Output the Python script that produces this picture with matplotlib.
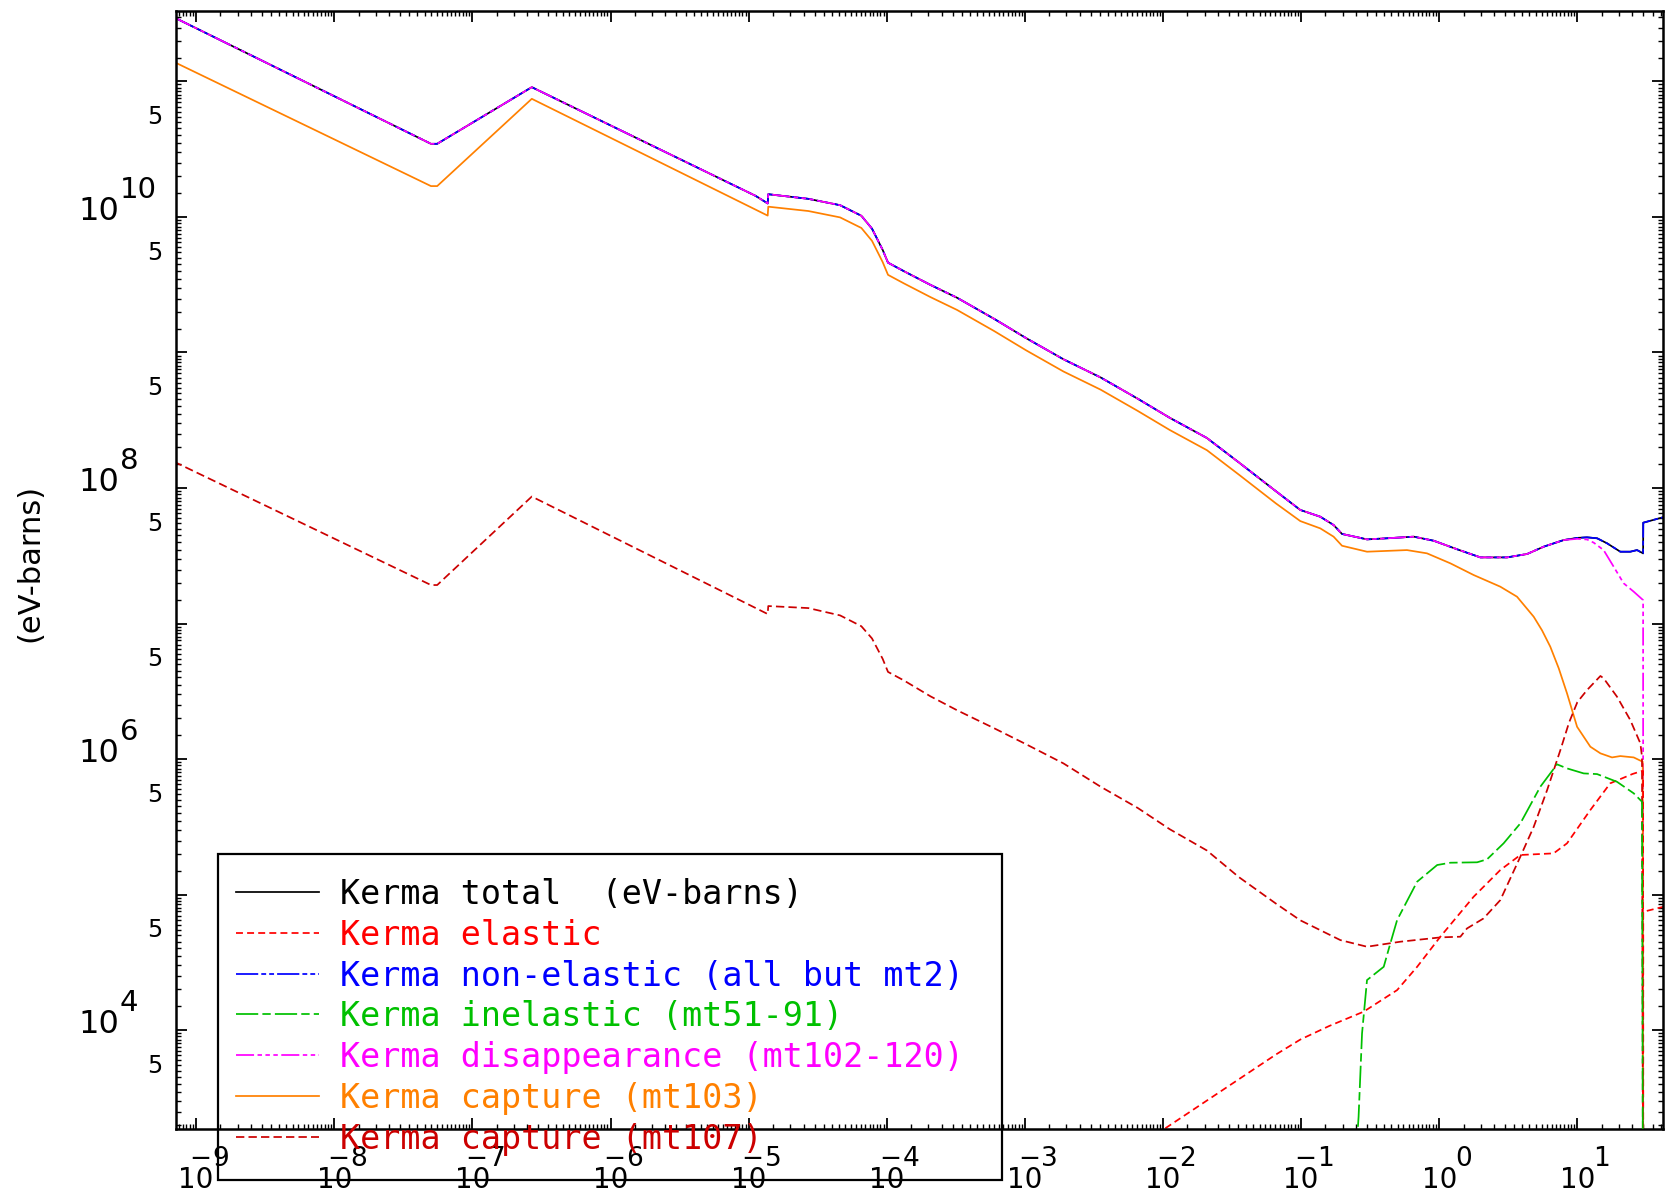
#!/usr/bin/env python3
"""Kerma factors (eV-barns) vs incident energy, log-log, seven components."""

import numpy as np
import matplotlib
matplotlib.use('Agg')
import matplotlib.pyplot as plt
from matplotlib import transforms
from matplotlib.lines import Line2D
from matplotlib.patches import Rectangle
from matplotlib.ticker import LogLocator, NullFormatter

plt.rcParams['lines.scale_dashes'] = False

# values: log10(E) and log10(kerma in eV-barns)
tot_logE = [-9.16, -7.30, -7.255, -6.570, -4.95, -4.862, -4.858, -4.568, -4.338, -4.184,
            -4.107, -4.030, -3.991, -3.876, -3.684, -3.491, -3.222, -2.991, -2.721, -2.452,
            -2.183, -1.951, -1.682, -1.451, -1.182, -1.006, -0.861, -0.765, -0.704, -0.523,
            -0.378, -0.185, -0.040, 0.129, 0.298, 0.491, 0.636, 0.756, 0.901, 1.000,
            1.070, 1.143, 1.215, 1.311, 1.383, 1.432, 1.476, 1.477, 1.62]
tot_logK = [11.473, 10.540, 10.540, 10.958, 10.156, 10.10, 10.168, 10.134, 10.087, 10.009,
            9.914, 9.758, 9.663, 9.600, 9.499, 9.404, 9.248, 9.106, 8.950, 8.816,
            8.659, 8.518, 8.369, 8.189, 7.976, 7.838, 7.788, 7.727, 7.661, 7.621,
            7.629, 7.641, 7.611, 7.548, 7.488, 7.488, 7.513, 7.567, 7.616, 7.632,
            7.636, 7.629, 7.592, 7.530, 7.530, 7.542, 7.518, 7.744, 7.784]

# disappearance follows the total up to ~8 MeV, then falls away
dis_logE = tot_logE[:39] + [1.000, 1.070, 1.118, 1.19, 1.263, 1.335, 1.408, 1.476, 1.4765]
dis_logK = tot_logK[:39] + [7.625, 7.620, 7.597, 7.542, 7.419, 7.297, 7.235, 7.173, 2.0]

cap103_logE = [-9.16, -7.30, -7.255, -6.570, -4.862, -4.858, -4.568, -4.338, -4.184, -4.107,
               -4.030, -3.991, -3.876, -3.684, -3.491, -3.222, -2.991, -2.721, -2.452, -2.183,
               -1.951, -1.682, -1.451, -1.182, -1.006, -0.861, -0.765, -0.704, -0.523, -0.234,
               -0.089, 0.081, 0.249, 0.442, 0.563, 0.684, 0.744, 0.804, 0.865, 0.925,
               0.998, 1.094, 1.167, 1.251, 1.311, 1.408, 1.473, 1.4765]
cap103_logK = [11.144, 10.228, 10.228, 10.872, 10.01, 10.076, 10.044, 9.997, 9.919, 9.824,
               9.668, 9.573, 9.510, 9.409, 9.314, 9.158, 9.016, 8.860, 8.726, 8.569,
               8.428, 8.279, 8.099, 7.886, 7.756, 7.702, 7.641, 7.574, 7.530, 7.542,
               7.518, 7.444, 7.358, 7.272, 7.198, 7.050, 6.950, 6.829, 6.670, 6.485,
               6.238, 6.091, 6.042, 6.012, 6.022, 6.012, 5.980, 2.0]

cap107_logE = [-9.16, -7.30, -7.255, -6.570, -4.862, -4.858, -4.568, -4.338, -4.184, -4.107,
               -4.030, -3.991, -3.876, -3.684, -3.491, -3.222, -2.991, -2.721, -2.452, -2.183,
               -1.951, -1.682, -1.451, -1.182, -1.006, -0.716, -0.523, -0.282, 0.008, 0.153,
               0.201, 0.321, 0.442, 0.587, 0.684, 0.781, 0.877, 0.940, 1.000, 1.070,
               1.167, 1.19, 1.287, 1.383, 1.456, 1.468, 1.4765]
cap107_logK = [8.194, 7.284, 7.284, 7.937, 7.07, 7.129, 7.114, 7.060, 6.980, 6.890,
               6.740, 6.643, 6.580, 6.463, 6.360, 6.227, 6.109, 5.968, 5.796, 5.639,
               5.482, 5.325, 5.129, 4.933, 4.81, 4.664, 4.615, 4.652, 4.684, 4.689,
               4.750, 4.824, 4.959, 5.279, 5.50, 5.771, 6.066, 6.270, 6.420, 6.509,
               6.613, 6.596, 6.460, 6.288, 6.116, 6.017, 2.0]

el_logE = [-2.05, -1.566, -1.182, -1.006, -0.797, -0.547, -0.305, -0.160, 0.008, 0.249,
           0.442, 0.587, 0.828, 0.925, 1.094, 1.238, 1.40, 1.468, 1.476, 1.4765, 1.477, 1.62]
el_logK = [3.23, 3.559, 3.82, 3.93, 4.03, 4.136, 4.295, 4.467, 4.689, 4.984,
           5.181, 5.292, 5.304, 5.378, 5.624, 5.821, 5.89, 5.912, 5.912, 2.0, 4.873, 4.909]

inel_logE = [-0.607, -0.584, -0.559, -0.523, -0.402, -0.354, -0.305, -0.160, -0.015, 0.081,
             0.274, 0.346, 0.466, 0.587, 0.732, 0.853, 0.925, 1.046, 1.143, 1.287,
             1.408, 1.468, 1.4765]
inel_logK = [3.0, 3.36, 3.975, 4.369, 4.467, 4.64, 4.812, 5.095, 5.218, 5.235,
             5.238, 5.26, 5.378, 5.525, 5.796, 5.961, 5.931, 5.894, 5.889, 5.832,
             5.747, 5.685, 2.0]

xtick_exps = list(range(-9, 2))
ytick_exps = [4, 6, 8, 10]
five_exps = list(range(3, 11))

LABELS = [
    'Kerma total  (eV-barns)',
    'Kerma elastic',
    'Kerma non-elastic (all but mt2)',
    'Kerma inelastic (mt51-91)',
    'Kerma disappearance (mt102-120)',
    'Kerma capture (mt103)',
    'Kerma capture (mt107)',
]
COLORS = ['black', '#ff0000', '#0000ff', '#00c000', '#ff00ff', '#ff8000', '#cc0000']
STYLES = [
    '-',
    (0, (5, 3)),
    (0, (16, 2.2, 3.5, 2.2, 3.5, 2.2)),
    (0, (16, 3, 6, 3)),
    (0, (13, 2.5, 3.2, 2.5, 3.2, 2.5, 3.2, 2.5)),
    '-',
    (0, (6, 3)),
]

W, H = 1667, 1196


def fx(px):
    return px / W


def fy(py):
    return 1 - py / H


def main():
    fig = plt.figure(figsize=(W / 100, H / 100), dpi=100)
    ax = fig.add_axes([fx(176), fy(1129), fx(1663) - fx(176), fy(11) - fy(1129)])

    def pw(lx, ly):
        return 10 ** np.array(lx), 10 ** np.array(ly)

    series = [
        (tot_logE, tot_logK),      # total
        (el_logE, el_logK),        # elastic
        (tot_logE, tot_logK),      # non-elastic (coincides with total)
        (inel_logE, inel_logK),
        (dis_logE, dis_logK),
        (cap103_logE, cap103_logK),
        (cap107_logE, cap107_logK),
    ]
    order = [0, 2, 4, 5, 6, 1, 3]
    for n, i in enumerate(order):
        x, y = pw(*series[i])
        ax.plot(x, y, color=COLORS[i], linestyle=STYLES[i], lw=1.25, zorder=2 + n * 0.1)

    ax.set_xscale('log')
    ax.set_yscale('log')
    ax.set_xlim(10 ** -9.146, 10 ** 1.62)
    ax.set_ylim(10 ** 3.27, 10 ** 11.52)

    for axis in (ax.xaxis, ax.yaxis):
        axis.set_major_locator(LogLocator(base=10, numticks=100))
        axis.set_minor_locator(LogLocator(base=10, subs=np.arange(1.5, 10, 0.5), numticks=200))
        axis.set_minor_formatter(NullFormatter())
    ax.tick_params(which='both', direction='in', top=True, right=True,
                   labelbottom=False, labelleft=False)
    ax.tick_params(which='major', length=8, width=1.3)
    ax.tick_params(which='minor', length=3.5, width=1.0)
    for sp in ax.spines.values():
        sp.set_linewidth(1.8)

    # x tick labels: "10" with a nearly full-size exponent
    tx = transforms.blended_transform_factory(ax.transData, fig.transFigure)
    tx_exp = transforms.offset_copy(tx, fig=fig, x=16, y=0, units='dots')
    tx_min = transforms.offset_copy(tx, fig=fig, x=15, y=0, units='dots')
    for k in xtick_exps:
        ax.text(10.0 ** k, fy(1188), '10', transform=tx, ha='center', va='baseline',
                fontsize=20, clip_on=False)
        ax.text(10.0 ** k, fy(1166), str(abs(k)), transform=tx_exp, ha='left',
                va='baseline', fontsize=19, clip_on=False)
        if k < 0:
            ax.text(10.0 ** k, fy(1166), '\u2212', transform=tx_min, ha='right',
                    va='baseline', fontsize=19, clip_on=False)

    # y tick labels
    ty = transforms.blended_transform_factory(fig.transFigure, ax.transData)
    ty_base = transforms.offset_copy(ty, fig=fig, x=0, y=-3, units='dots')
    ty_exp = transforms.offset_copy(ty, fig=fig, x=0, y=19, units='dots')
    ty_five = transforms.offset_copy(ty, fig=fig, x=0, y=5, units='dots')
    for k in ytick_exps:
        ax.text(fx(119), 10.0 ** k, '10', transform=ty_base, ha='right', va='baseline',
                fontsize=23, clip_on=False)
        ax.text(fx(120), 10.0 ** k, str(k), transform=ty_exp, ha='left', va='baseline',
                fontsize=21, clip_on=False)
    for k in five_exps:
        ax.text(fx(162), 5 * 10.0 ** k, '5', transform=ty_five, ha='right', va='center',
                fontsize=17, clip_on=False)

    fig.text(fx(30), fy(563), '(eV-barns)', rotation=90, ha='center', va='center',
             fontsize=22)

    # legend box, drawn by hand so it can hang below the axes like the original
    fig.patches.append(Rectangle((fx(218), fy(1180)), fx(1002) - fx(218), fy(854) - fy(1180),
                                 transform=fig.transFigure, fill=False, edgecolor='black',
                                 linewidth=1.6, zorder=5))
    for i, lab in enumerate(LABELS):
        yc = 892 + i * 40.8
        fig.lines.append(Line2D([fx(236), fx(319)], [fy(yc), fy(yc)], transform=fig.transFigure,
                                color=COLORS[i], linestyle=STYLES[i], lw=1.25, zorder=5))
        fig.text(fx(340), fy(yc + 12), lab, color=COLORS[i], ha='left', va='baseline',
                 fontsize=24, family='DejaVu Sans Mono', zorder=5)

    fig.savefig('out.png', dpi=100)
    plt.close(fig)


if __name__ == '__main__':
    main()
